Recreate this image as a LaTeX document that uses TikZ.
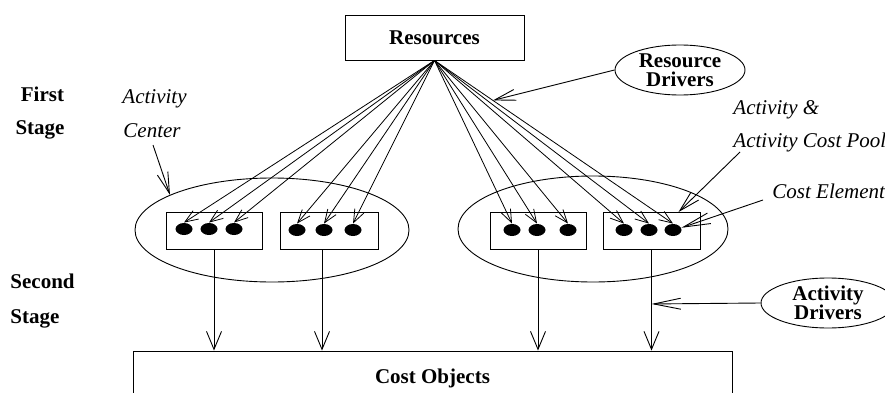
\documentclass[tikz,border=0pt]{standalone}
\usepackage{fontspec}
\setmainfont{Liberation Serif}
\usetikzlibrary{arrows.meta,shapes.geometric,calc}
\begin{document}
\begin{tikzpicture}[x=1pt,y=-1pt, line width=0.9pt,
  lbl/.style={font=\fontsize{21}{19.5}\selectfont\bfseries, inner sep=0pt, align=center},
  itl/.style={font=\fontsize{21}{19}\selectfont\itshape, inner sep=0pt},
  boxn/.style={draw, rectangle, inner sep=0pt},
  dotn/.style={ellipse, fill=black, minimum width=17pt, minimum height=12pt, inner sep=0pt},
  bigell/.style={draw, ellipse, inner sep=0pt},
  fan/.style={-{Straight Barb[length=13pt,width=10pt]}, line width=0.8pt},
  down/.style={-{Straight Barb[length=18pt,width=15pt]}},
  ptr/.style={-{Straight Barb[length=21pt,width=11pt]}},
  adptr/.style={-{Straight Barb[length=27pt,width=11pt]}}
]
\useasboundingbox (0,0) rectangle (885,393);

% top box
\node[boxn, lbl, minimum width=179pt, minimum height=45pt] (res) at (434.5,37.5) {Resources};

% cost objects
\node[boxn, lbl, minimum width=599pt, minimum height=54pt] (co) at (432.5,378) {Cost Objects};

% activity centers
\node[bigell, minimum width=274pt, minimum height=104pt] (le) at (272,230) {};
\node[bigell, minimum width=270pt, minimum height=106pt] (re) at (593,229) {};

% activity boxes
\node[boxn, minimum width=96pt, minimum height=37pt] (b1) at (214,230.5) {};
\node[boxn, minimum width=98pt, minimum height=37pt] (b2) at (329,230.5) {};
\node[boxn, minimum width=96pt, minimum height=37pt] (b3) at (538,231) {};
\node[boxn, minimum width=97pt, minimum height=37pt] (b4) at (651.5,231) {};

% cost elements
\node[dotn] (d11) at (184,229) {};
\node[dotn] (d12) at (209,229) {};
\node[dotn] (d13) at (234,229) {};
\node[dotn] (d21) at (297,230) {};
\node[dotn] (d22) at (324,230) {};
\node[dotn] (d23) at (353,230) {};
\node[dotn] (d31) at (512,230) {};
\node[dotn] (d32) at (537,230) {};
\node[dotn] (d33) at (568,230) {};
\node[dotn] (d41) at (624,230) {};
\node[dotn] (d42) at (649,230) {};
\node[dotn] (d43) at (673,230) {};

% resource drivers fan
\foreach \d in {d11,d12,d13,d21,d22,d23,d31,d32,d33,d41,d42,d43}
  \draw[fan] (res.south) -- (\d.north);

% activity drivers down
\draw[down] (b1.south) -- (b1.south |- co.north);
\draw[down] ([xshift=-7pt]b2.south) -- ([xshift=-7pt]b2.south |- co.north);
\draw[down] (b3.south) -- (b3.south |- co.north);
\draw[down] (b4.south) -- (b4.south |- co.north)
  coordinate[pos=0.537] (adt);

% labels
\node[lbl, anchor=base east] (first) at (64.5,102) {First};
\node[lbl, anchor=base east] (stage1) at (65,135) {Stage};
\node[lbl, anchor=base west] (second) at (10,288) {Second};
\node[lbl, anchor=base west] (stage2) at (10,323) {Stage};

\node[itl, anchor=base west] (act) at (122,104) {Activity};
\node[itl, anchor=base west] (cen) at (123,137) {Center};
\node[itl, anchor=base west] (aa) at (733,114) {Activity \&};
\node[itl, anchor=base west] (acpool) at (733,147) {Activity Cost Pool};
\node[itl, anchor=base west] (cel) at (772,198) {Cost Element};

% driver ellipses
\node[bigell, lbl, minimum width=130pt, minimum height=50pt] (rdr) at (680,70) {Resource\\Drivers};
\node[bigell, lbl, minimum width=134pt, minimum height=50pt] (adr) at (828,303) {Activity\\Drivers};

% pointers
\path (res.south) -- (d43.north) coordinate[pos=0.245] (rdt);
\draw[ptr] (rdr.west) -- (rdt);
\draw[adptr] (adr.west) -- (adt);
\coordinate (acs) at (153,145);
\draw[ptr] (acs) -- (le.161);
\coordinate (acp) at (740,152);
\draw[ptr] (acp) -- ([xshift=27pt]b4.north);
\coordinate (ces) at (763,200);
\draw[adptr] (ces) -- (d43.15);
\end{tikzpicture}
\end{document}
